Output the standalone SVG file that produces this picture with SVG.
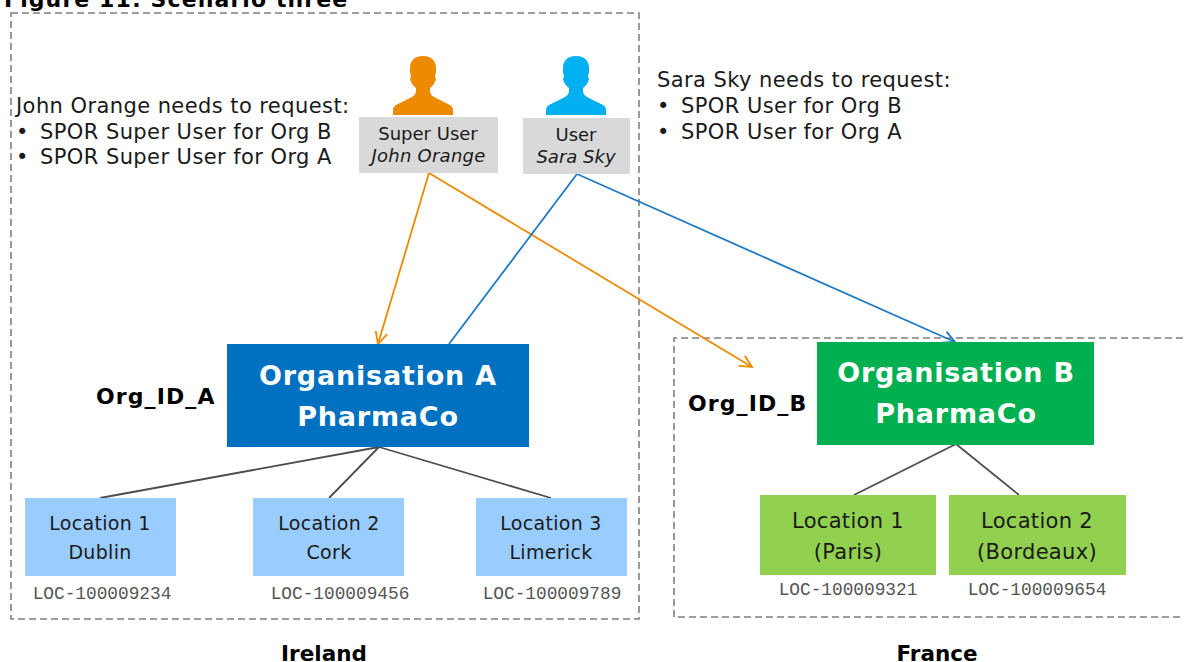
<svg xmlns="http://www.w3.org/2000/svg" width="1186" height="662" viewBox="0 0 1186 662">
<defs>
<marker id="ao" markerUnits="userSpaceOnUse" markerWidth="16" markerHeight="16" refX="13" refY="7" orient="auto"><path d="M1 1L13 7L1 13" fill="none" stroke="#ED8B00" stroke-width="1.8"/></marker>
<marker id="ab" markerUnits="userSpaceOnUse" markerWidth="16" markerHeight="16" refX="13" refY="7" orient="auto"><path d="M1 1L13 7L1 13" fill="none" stroke="#1F7AC4" stroke-width="1.8"/></marker>
<symbol id="person" viewBox="0 0 60 59"><path d="M30 0C21 0 17 5 17 12L17 16L18 20L17 23C18 27 20 30 23 32L23 35C23 38 21 40 17 42L3 49C1 50 0 52 0 54L0 59L60 59L60 54C60 52 59 50 57 49L43 42C39 40 37 38 37 35L37 32C40 30 42 27 43 23L42 20L43 16L43 12C43 5 39 0 30 0Z"/></symbol>
</defs>
<style>
text{font-family:"DejaVu Sans",Verdana,sans-serif;fill:#1a1a1a}
.t{font-size:21px;letter-spacing:.42px}
.s{font-size:18px;text-anchor:middle}
.m{font-size:19px;letter-spacing:.3px;text-anchor:middle}
.n{font-size:21px;letter-spacing:.3px;text-anchor:middle}
.h{font-size:27px;font-weight:bold;fill:#fff;text-anchor:middle;letter-spacing:.8px}
.b{font-size:22px;font-weight:bold;fill:#000;letter-spacing:1.1px}
.r{font-size:21.5px;font-weight:bold;fill:#000;text-anchor:middle}
.c{font-family:"Liberation Mono","Courier New",monospace;font-size:17.8px;fill:#555;text-anchor:middle}
.d{fill:none;stroke:#7f7f7f;stroke-width:1.6;stroke-dasharray:7 4}
.g{stroke:#4d4d4d;stroke-width:1.8;fill:none}
.lb{fill:#99CCFF}.lg{fill:#92D050}
.co{stroke:#ED8B00;stroke-width:1.8;fill:none}
.cb{stroke:#1F7AC4;stroke-width:1.8;fill:none}
</style>
<text class="b" x="4" y="7">Figure 11: Scenario three</text>
<rect class="d" x="11" y="13" width="628" height="606"/>
<path class="d" d="M1183 338H674V617H1183"/>
<text class="r" x="324" y="661">Ireland</text>
<text class="r" x="937" y="661">France</text>
<g id="notes-john"><text class="t" x="16" y="113">John Orange needs to request:</text><text class="t" y="138.500"><tspan x="16">•</tspan><tspan x="40">SPOR Super User for Org B</tspan></text><text class="t" y="163.500"><tspan x="16">•</tspan><tspan x="40">SPOR Super User for Org A</tspan></text></g>
<g id="notes-sara"><text class="t" x="657" y="87">Sara Sky needs to request:</text><text class="t" y="112.500"><tspan x="657">•</tspan><tspan x="681">SPOR User for Org B</tspan></text><text class="t" y="138.500"><tspan x="657">•</tspan><tspan x="681">SPOR User for Org A</tspan></text></g>
<g id="connectors">
<path class="co" d="M429 173L378 344" marker-end="url(#ao)"/>
<path class="co" d="M429 173L752 367" marker-end="url(#ao)"/>
<path class="cb" d="M577 174L449 344"/>
<path class="cb" d="M577 174L955 342" marker-end="url(#ab)"/>
<path class="g" d="M379 447L100 498M379 447L329 498M379 447L551 498M956 444L854 495M956 444L1019 495"/>
</g>
<g id="john"><use href="#person" x="393" y="56" width="60" height="59" fill="#ED8B00"/><rect x="359" y="117" width="139" height="56" fill="#D9D9D9"/><text class="s" x="428" y="140">Super User</text><text class="s" x="428.500" y="161.500" font-style="italic" letter-spacing=".25">John Orange</text></g>
<g id="sara"><use href="#person" x="546" y="56" width="60" height="59" fill="#00B0F0"/><rect x="523" y="118" width="107" height="56" fill="#D9D9D9"/><text class="s" x="576" y="141">User</text><text class="s" x="576" y="163" font-style="italic">Sara Sky</text></g>
<g id="orgA"><rect x="227" y="344" width="302" height="103" fill="#0070C0"/><text class="h" x="378" y="385">Organisation A</text><text class="h" x="378" y="426">PharmaCo</text><text class="b" x="96" y="404">Org_ID_A</text></g>
<g id="orgB"><rect x="817" y="342" width="277" height="103" fill="#00B050"/><text class="h" x="956" y="382">Organisation B</text><text class="h" x="956" y="423">PharmaCo</text><text class="b" x="688" y="411">Org_ID_B</text></g>
<g id="l1"><rect class="lb" x="25" y="498" width="151" height="78"/><text class="m" x="100" y="530">Location 1</text><text class="m" x="100" y="558.500">Dublin</text><text class="c" x="102" y="599">LOC-100009234</text></g>
<g id="l2"><rect class="lb" x="253" y="498" width="151" height="78"/><text class="m" x="329" y="530">Location 2</text><text class="m" x="329" y="558.500">Cork</text><text class="c" x="340" y="599">LOC-100009456</text></g>
<g id="l3"><rect class="lb" x="476" y="498" width="151" height="78"/><text class="m" x="551" y="530">Location 3</text><text class="m" x="551" y="558.500">Limerick</text><text class="c" x="552" y="599">LOC-100009789</text></g>
<g id="l4"><rect class="lg" x="760" y="495" width="176" height="80"/><text class="n" x="848" y="527.500">Location 1</text><text class="n" x="848" y="558.500">(Paris)</text><text class="c" x="848" y="595">LOC-100009321</text></g>
<g id="l5"><rect class="lg" x="949" y="495" width="177" height="80"/><text class="n" x="1037" y="527.500">Location 2</text><text class="n" x="1037" y="558.500">(Bordeaux)</text><text class="c" x="1037" y="595">LOC-100009654</text></g>
</svg>
